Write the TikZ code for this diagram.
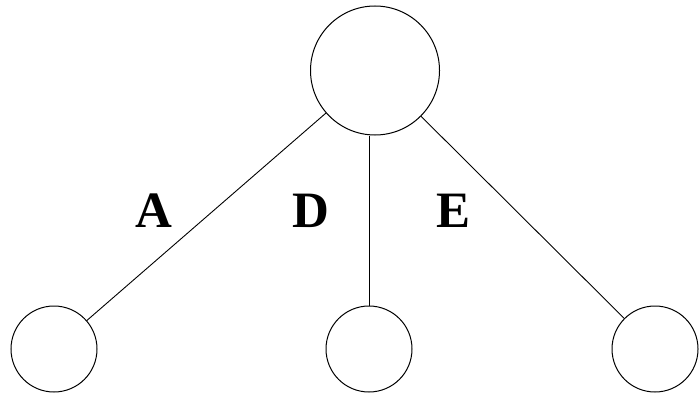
\documentclass[tikz,border=0pt]{standalone}
\usepackage{fontspec}
\setmainfont{Liberation Serif}
\usepackage{tikz}
\usetikzlibrary{positioning}

\begin{document}
\begin{tikzpicture}[
  x=1pt, y=-1pt,
  big/.style={circle, draw, line width=1pt, minimum size=129pt, inner sep=0pt},
  leaf/.style={circle, draw, line width=1pt, minimum size=86pt, inner sep=0pt},
  edge/.style={line width=0.9pt},
  lbl/.style={font=\fontsize{51}{51}\selectfont\bfseries, inner sep=0pt}
]
\useasboundingbox (0,0) rectangle (700,396);
\node[big] (root) at (375,70.5) {};
\node[leaf] (left) at (54,349) {};
\node[leaf] (mid) at (369,349) {};
\node[leaf] (right) at (655,349) {};

\draw[edge] (root) -- (left);
\draw[edge] (mid.north) -- (mid.north |- root.south);
\draw[edge] (root) -- (right);

\node[lbl] (la) at (154,211) {A};
\node[lbl] (ld) at (310.5,211) {D};
\node[lbl] (le) at (453.5,211) {E};
\end{tikzpicture}
\end{document}
